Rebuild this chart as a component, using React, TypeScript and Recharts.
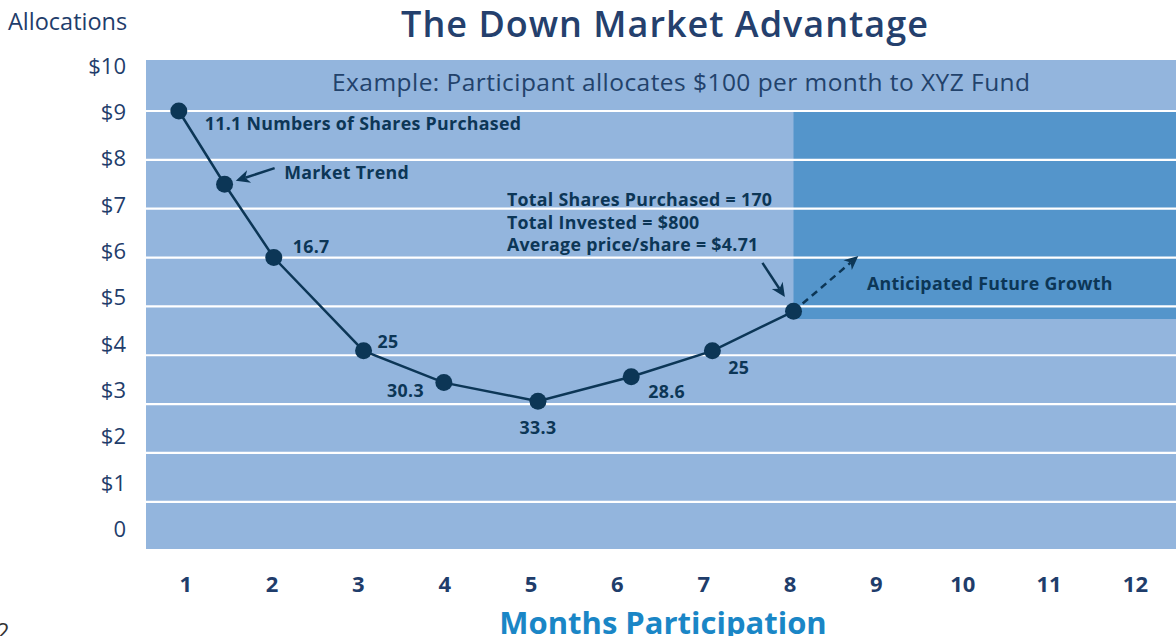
import React from 'react';
import { LineChart, Line, XAxis, YAxis, ReferenceArea, ReferenceLine, ReferenceDot } from 'recharts';

// ---------- data ----------
const monthTicks = [1, 2, 3, 4, 5, 6, 7, 8, 9, 10, 11, 12];
const allocationTicks = [0, 1, 2, 3, 4, 5, 6, 7, 8, 9, 10];
const gridLevels = [1, 2, 3, 4, 5, 6, 7, 8, 9];
const monthDomain = [0.54, 12.47];
const priceDomain = [0.034, 10.044];
const allocationDomain = [-0.432, 10.13];
// position of each purchase along the month axis, as drawn
const purchaseMonth = [0.92, 1.45, 2.02, 3.06, 3.99, 5.08, 6.16, 7.1, 8.04];
// share price at each purchase ($), as drawn
const sharePrice = [9, 7.5, 6, 4.09, 3.44, 3.06, 3.56, 4.09, 4.9];
// shares purchased labels
const sharesBought = ['11.1 Numbers of Shares Purchased', '', '16.7', '25', '30.3', '33.3', '28.6', '25', ''];
const summaryLines = ['Total Shares Purchased = 170', 'Total Invested = $800', 'Average price/share = $4.71'];
const futureZone = { fromMonth: 8.04, lowPrice: 4.74, highPrice: 9 };
const marketTrendArrow = [{ x: 2.03, y: 7.83 }, { x: 1.58, y: 7.57 }];
const summaryArrow = [{ x: 7.68, y: 5.89 }, { x: 7.94, y: 5.19 }];
const growthArrow = [{ x: 8.04, y: 4.9 }, { x: 8.79, y: 6.03 }];
const notes = {
  example: { x: 6.74, y: 9.61, text: 'Example: Participant allocates $100 per month to XYZ Fund' },
  marketTrend: { x: 2.14, y: 7.75, text: 'Market Trend' },
  summary: { x: 4.72, y: 7.18 },
  future: { x: 8.89, y: 5.48, text: 'Anticipated Future Growth' },
};
const titleText = 'The Down Market Advantage';
const yAxisTitle = 'Allocations';
const xAxisTitle = 'Months Participation';
const pageNumber = '2';

const data = purchaseMonth.map((m, i) => ({ month: m, price: sharePrice[i], shares: sharesBought[i] }));

// ---------- styles ----------
const FONT = '"Open Sans", sans-serif';
const NAVY = '#0c3656';
const LABEL_NAVY = '#1f3d6b';
const PLOT_BG = '#93b5dd';
const FUTURE_BG = '#5495cb';

const labelPos: ({ dx: number; dy: number; anchor: 'start' | 'middle' | 'end' } | null)[] = [
  { dx: 26, dy: 12, anchor: 'start' },
  null,
  { dx: 19, dy: -12, anchor: 'start' },
  { dx: 14, dy: -10, anchor: 'start' },
  { dx: -20, dy: 7, anchor: 'end' },
  { dx: 0, dy: 26, anchor: 'middle' },
  { dx: 17, dy: 14, anchor: 'start' },
  { dx: 16, dy: 16, anchor: 'start' },
  null,
];

const boldText = { fontFamily: FONT, fontWeight: 700, fontSize: 17.8, letterSpacing: 0.3, fill: NAVY } as const;

const renderDot = (props: any) => {
  const { cx, cy, index, payload } = props;
  const pos = labelPos[index];
  return (
    <g key={`dot-${index}`}>
      <circle cx={cx} cy={cy} r={8.5} fill={NAVY} />
      {pos && payload.shares ? (
        <text x={cx + pos.dx} y={cy + pos.dy} textAnchor={pos.anchor} dominantBaseline="central" style={boldText}>
          {payload.shares}
        </text>
      ) : null}
    </g>
  );
};

const makeArrow = (dashed: boolean, gap: number) => (props: any) => {
  const { x1, y1, x2, y2 } = props;
  const dx = x2 - x1;
  const dy = y2 - y1;
  const len = Math.hypot(dx, dy) || 1;
  const ux = dx / len;
  const uy = dy / len;
  const sx = x1 + ux * gap;
  const sy = y1 + uy * gap;
  const head = 14;
  const half = 6.5;
  const bx = x2 - ux * head;
  const by = y2 - uy * head;
  const px = -uy;
  const py = ux;
  const nx = bx + ux * 4;
  const ny = by + uy * 4;
  return (
    <g>
      <line x1={sx} y1={sy} x2={nx} y2={ny} stroke={NAVY} strokeWidth={2.5} strokeDasharray={dashed ? '7 5' : undefined} />
      <polygon
        points={`${x2},${y2} ${bx + px * half},${by + py * half} ${nx},${ny} ${bx - px * half},${by - py * half}`}
        fill={NAVY}
      />
    </g>
  );
};

const textShape = (text: string, anchor: 'start' | 'middle', style: any) => (props: any) => (
  <text x={props.cx} y={props.cy} textAnchor={anchor} dominantBaseline="central" style={style}>
    {text}
  </text>
);

const summaryShape = (props: any) => (
  <text x={props.cx} y={props.cy} style={boldText}>
    {summaryLines.map((l, i) => (
      <tspan key={i} x={props.cx} dy={i === 0 ? '0.35em' : 22.5}>
        {l}
      </tspan>
    ))}
  </text>
);

export default function App() {
  return (
    <div style={{ position: 'absolute', left: 0, top: 0, width: 1176, height: 636, background: '#fff', overflow: 'hidden' }}>
      <LineChart width={1176} height={636} data={data} margin={{ top: 60, right: 0, bottom: 47, left: 0 }}>
        <XAxis
          xAxisId={0}
          type="number"
          dataKey="month"
          domain={monthDomain}
          allowDataOverflow
          ticks={monthTicks}
          interval={0}
          height={40}
          axisLine={false}
          tickLine={false}
          tickSize={0}
          tickMargin={27}
          tick={{ fontFamily: FONT, fontWeight: 700, fontSize: 22, fill: LABEL_NAVY }}
        />
        <YAxis
          yAxisId="lbl"
          type="number"
          domain={allocationDomain}
          allowDataOverflow
          ticks={allocationTicks}
          interval={0}
          width={146}
          axisLine={false}
          tickLine={false}
          tickSize={0}
          tickMargin={20}
          tickFormatter={(v: number) => (v === 0 ? '0' : `$${v}`)}
          tick={{ fontFamily: FONT, fontSize: 22, fill: LABEL_NAVY }}
        />
        <YAxis yAxisId="main" type="number" domain={priceDomain} allowDataOverflow hide />

        <ReferenceArea
          yAxisId="main"
          x1={monthDomain[0]}
          x2={monthDomain[1]}
          y1={priceDomain[0]}
          y2={priceDomain[1]}
          fill={PLOT_BG}
          fillOpacity={1}
          stroke="none"
        />
        <ReferenceArea
          yAxisId="main"
          x1={futureZone.fromMonth}
          x2={monthDomain[1]}
          y1={futureZone.lowPrice}
          y2={futureZone.highPrice}
          fill={FUTURE_BG}
          fillOpacity={1}
          stroke="none"
        />
        {gridLevels.map((lv) => (
          <ReferenceLine key={lv} yAxisId="main" y={lv} stroke="#ffffff" strokeWidth={2.2} />
        ))}

        <ReferenceDot
          yAxisId="main"
          x={notes.example.x}
          y={notes.example.y}
          r={0}
          shape={textShape(notes.example.text, 'middle', {
            fontFamily: FONT, fontSize: 24.5, letterSpacing: 0.45, fill: '#22426b',
          })}
        />
        <ReferenceDot
          yAxisId="main"
          x={notes.marketTrend.x}
          y={notes.marketTrend.y}
          r={0}
          shape={textShape(notes.marketTrend.text, 'start', boldText)}
        />
        <ReferenceDot yAxisId="main" x={notes.summary.x} y={notes.summary.y} r={0} shape={summaryShape} />
        <ReferenceDot
          yAxisId="main"
          x={notes.future.x}
          y={notes.future.y}
          r={0}
          shape={textShape(notes.future.text, 'start', boldText)}
        />

        <ReferenceLine yAxisId="main" segment={marketTrendArrow} shape={makeArrow(false, 0)} />
        <ReferenceLine yAxisId="main" segment={summaryArrow} shape={makeArrow(false, 0)} />

        <Line
          yAxisId="main"
          type="linear"
          dataKey="price"
          stroke={NAVY}
          strokeWidth={2.5}
          dot={renderDot}
          activeDot={false}
          isAnimationActive={false}
        />
        <ReferenceLine yAxisId="main" segment={growthArrow} shape={makeArrow(true, 12)} />

        <text
          x={8}
          y={21}
          dominantBaseline="central"
          style={{ fontFamily: FONT, fontSize: 23.5, fill: LABEL_NAVY }}
        >
          {yAxisTitle}
        </text>
        <text
          x={665}
          y={23}
          textAnchor="middle"
          dominantBaseline="central"
          style={{ fontFamily: FONT, fontWeight: 600, fontSize: 36, letterSpacing: 1, fill: '#24406d' }}
        >
          {titleText}
        </text>
        <text
          x={663}
          y={622}
          textAnchor="middle"
          dominantBaseline="central"
          style={{ fontFamily: FONT, fontWeight: 700, fontSize: 31, fill: '#1a86c6' }}
        >
          {xAxisTitle}
        </text>
        <text x={-3} y={630} dominantBaseline="central" style={{ fontFamily: FONT, fontSize: 22, fill: '#333333' }}>
          {pageNumber}
        </text>
      </LineChart>
    </div>
  );
}
